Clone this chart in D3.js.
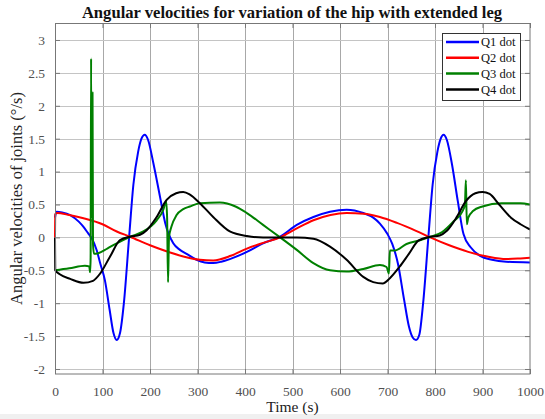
<!DOCTYPE html>
<html>
<head>
<meta charset="utf-8">
<script src="https://cdn.jsdelivr.net/npm/d3@7"></script>
<style>
  body { margin: 0; background: #fff; }
  svg text { font-family: "Liberation Serif", serif; }
</style>
</head>
<body>
<div id="chart"></div>
<script>
const xTicks = [0, 100, 200, 300, 400, 500, 600, 700, 800, 900, 1000];
const yTicks = [-2, -1.5, -1, -0.5, 0, 0.5, 1, 1.5, 2, 2.5, 3];

// [time, velocity]
const q1 = [[0,0.30],[3,0.39],[15,0.38],[32,0.34],[50,0.24],[60,0.16],[70,0.06],[77,-0.01],[88,-0.2],[95,-0.39],[105,-0.65],[115,-1.1],[123,-1.45],[130,-1.56],[137,-1.45],[145,-1.0],[156,0.0],[165,0.8],[175,1.3],[182,1.5],[189,1.56],[196,1.48],[207,1.13],[221,0.62],[232,0.22],[249,-0.09],[263,-0.19],[277,-0.25],[298,-0.34],[315,-0.38],[333,-0.39],[350,-0.37],[368,-0.33],[404,-0.22],[438,-0.09],[474,0.01],[509,0.19],[544,0.31],[579,0.39],[614,0.42],[649,0.37],[670,0.3],[684,0.21],[700,0.05],[710,-0.1],[722,-0.4],[735,-0.95],[745,-1.35],[753,-1.52],[760,-1.56],[767,-1.48],[775,-1.0],[786,0.0],[795,0.8],[805,1.3],[812,1.5],[818,1.56],[825,1.48],[836,1.1],[848,0.55],[860,0.05],[875,-0.15],[895,-0.28],[920,-0.34],[950,-0.37],[1000,-0.38]];
const q2 = [[0,0],[0.5,0.35],[4,0.37],[30,0.34],[60,0.29],[100,0.2],[130,0.09],[158,0.01],[200,-0.12],[230,-0.2],[270,-0.29],[305,-0.34],[333,-0.35],[370,-0.28],[404,-0.17],[440,-0.08],[474,0.0],[510,0.14],[544,0.26],[580,0.34],[614,0.37],[650,0.36],[684,0.31],[720,0.22],[760,0.1],[790,0.0],[830,-0.12],[870,-0.22],[910,-0.29],[950,-0.33],[980,-0.32],[1000,-0.31]];
const q3 = [[0,-0.5],[30,-0.47],[63,-0.43],[72,-0.44],[74,-0.53],[75,-0.3],[76,2.72],[77,0.3],[78,1.0],[79,2.2],[80,-0.1],[82,-0.25],[91,-0.24],[110,-0.17],[130,-0.09],[158,0.01],[186,0.09],[214,0.26],[228,0.42],[234,0.55],[236,0.3],[238,-0.68],[240,0.0],[245,0.16],[256,0.34],[270,0.43],[284,0.47],[305,0.52],[347,0.53],[380,0.47],[404,0.37],[438,0.19],[474,0.0],[509,-0.19],[544,-0.39],[579,-0.5],[614,-0.52],[649,-0.48],[684,-0.42],[698,-0.45],[703,-0.55],[705,-0.2],[715,-0.2],[740,-0.1],[770,-0.04],[790,0.01],[815,0.08],[840,0.25],[858,0.4],[863,0.5],[865,0.87],[867,0.2],[870,0.3],[880,0.4],[900,0.47],[940,0.52],[980,0.52],[1000,0.5]];
const q4 = [[0,0],[0.5,-0.5],[10,-0.56],[32,-0.63],[60,-0.69],[80,-0.66],[95,-0.55],[116,-0.29],[137,-0.04],[158,0.01],[179,0.04],[193,0.11],[214,0.31],[235,0.57],[255,0.67],[270,0.69],[284,0.65],[305,0.52],[333,0.31],[368,0.09],[404,0.02],[438,0.0],[474,0.0],[509,0.0],[544,-0.02],[579,-0.14],[614,-0.34],[649,-0.6],[670,-0.68],[690,-0.7],[705,-0.62],[725,-0.45],[745,-0.25],[765,-0.05],[790,0.01],[810,0.03],[825,0.1],[845,0.3],[865,0.55],[885,0.67],[900,0.69],[915,0.66],[935,0.5],[960,0.3],[980,0.2],[1000,0.12]];

const seriesNames = ["Q1 dot", "Q2 dot", "Q3 dot", "Q4 dot"];
const seriesColors = ["#0000ff", "#ff0000", "#008000", "#000000"];
const seriesData = [q1, q2, q3, q4];

const width = 545, height = 419;
const margin = { top: 23, right: 15, bottom: 45, left: 55 };
const innerW = width - margin.left - margin.right;
const innerH = height - margin.top - margin.bottom;

const svg = d3.select("#chart").append("svg").attr("width", width).attr("height", height);
svg.append("rect").attr("x", 0).attr("y", 414).attr("width", width).attr("height", 5).attr("fill", "#f0f0f0");

const x = d3.scaleLinear().domain([0, 1000]).range([0, innerW]);
const y = d3.scaleLinear().domain([-2.076, 3.258]).range([innerH, 0]);

const g = svg.append("g").attr("transform", `translate(${margin.left},${margin.top})`);

// grid
g.selectAll(".v-grid")
  .data(xTicks.slice(1, -1))
  .join("line")
  .attr("x1", (d) => Math.round(x(d)) + 0.5)
  .attr("x2", (d) => Math.round(x(d)) + 0.5)
  .attr("y1", 0)
  .attr("y2", innerH)
  .attr("stroke", "#a8a8a8");

g.selectAll(".h-grid")
  .data(yTicks)
  .join("line")
  .attr("x1", 0)
  .attr("x2", innerW)
  .attr("y1", (d) => Math.round(y(d)) + 0.5)
  .attr("y2", (d) => Math.round(y(d)) + 0.5)
  .attr("stroke", "#c4c4c4");

// axes (ticks inward, box on)
const tickLen = 5;
const xAxis = d3.axisBottom(x).tickValues(xTicks).tickSize(-tickLen).tickPadding(12).tickFormat(d3.format("d"));
const yAxis = d3.axisLeft(y).tickValues(yTicks).tickSize(-tickLen).tickPadding(10).tickFormat((d) => String(d));

const styleAxis = (sel) => {
  sel.select(".domain").remove();
  sel.selectAll("line").attr("stroke", "#777");
  sel.selectAll("text").attr("fill", "#505050").style("font-size", "13.5px").style("font-family", "Liberation Serif, serif");
};

g.append("g").attr("transform", `translate(0,${innerH})`).call(xAxis).call(styleAxis);
g.append("g").call(yAxis).call(styleAxis);
g.append("g").call(d3.axisTop(x).tickValues(xTicks).tickSize(-tickLen).tickFormat("")).call(styleAxis);
g.append("g").attr("transform", `translate(${innerW},0)`).call(d3.axisRight(y).tickValues(yTicks).tickSize(-tickLen).tickFormat("")).call(styleAxis);

// lines
const line = d3.line().x((d) => x(d[0])).y((d) => y(d[1])).curve(d3.curveMonotoneX);
g.append("clipPath").attr("id", "clip").append("rect").attr("x", -1).attr("width", innerW + 1).attr("height", innerH);
g.append("g")
  .attr("clip-path", "url(#clip)")
  .selectAll("path")
  .data(seriesData)
  .join("path")
  .attr("d", line)
  .attr("fill", "none")
  .attr("stroke", (d, i) => seriesColors[i])
  .attr("stroke-width", 2)
  .attr("stroke-linejoin", "round");

// box
g.append("rect").attr("x", 0.5).attr("y", 0.5).attr("width", innerW - 0.5).attr("height", innerH - 0.5)
  .attr("fill", "none").attr("stroke", "#777");

// legend
const legend = g.append("g").attr("transform", `translate(${x(0) + 387},${10})`);
legend.append("rect").attr("x", 0.5).attr("y", 0.5).attr("width", 78).attr("height", 67)
  .attr("fill", "#fff").attr("stroke", "#333");
seriesNames.forEach((name, i) => {
  const ly = 9 + i * 15.8;
  legend.append("line").attr("x1", 4).attr("x2", 37).attr("y1", ly).attr("y2", ly)
    .attr("stroke", seriesColors[i]).attr("stroke-width", 2.5);
  legend.append("text").attr("x", 39).attr("y", ly).attr("dy", "0.35em")
    .style("font-size", "12.5px").attr("fill", "#111").text(name);
});

// labels
svg.append("text").attr("x", 292).attr("y", 18).attr("text-anchor", "middle")
  .style("font-size", "16.6px").style("font-weight", "bold").attr("fill", "#111")
  .text("Angular velocities for variation of the hip with extended leg");
svg.append("text").attr("x", margin.left + innerW / 2).attr("y", 412).attr("text-anchor", "middle")
  .style("font-size", "15.5px").attr("fill", "#222").text("Time (s)");
svg.append("text").attr("transform", `translate(22,${margin.top + innerH / 2}) rotate(-90)`)
  .attr("text-anchor", "middle").style("font-size", "16.5px").attr("fill", "#222")
  .text("Angular velocities of joints (°/s)");
</script>
</body>
</html>
